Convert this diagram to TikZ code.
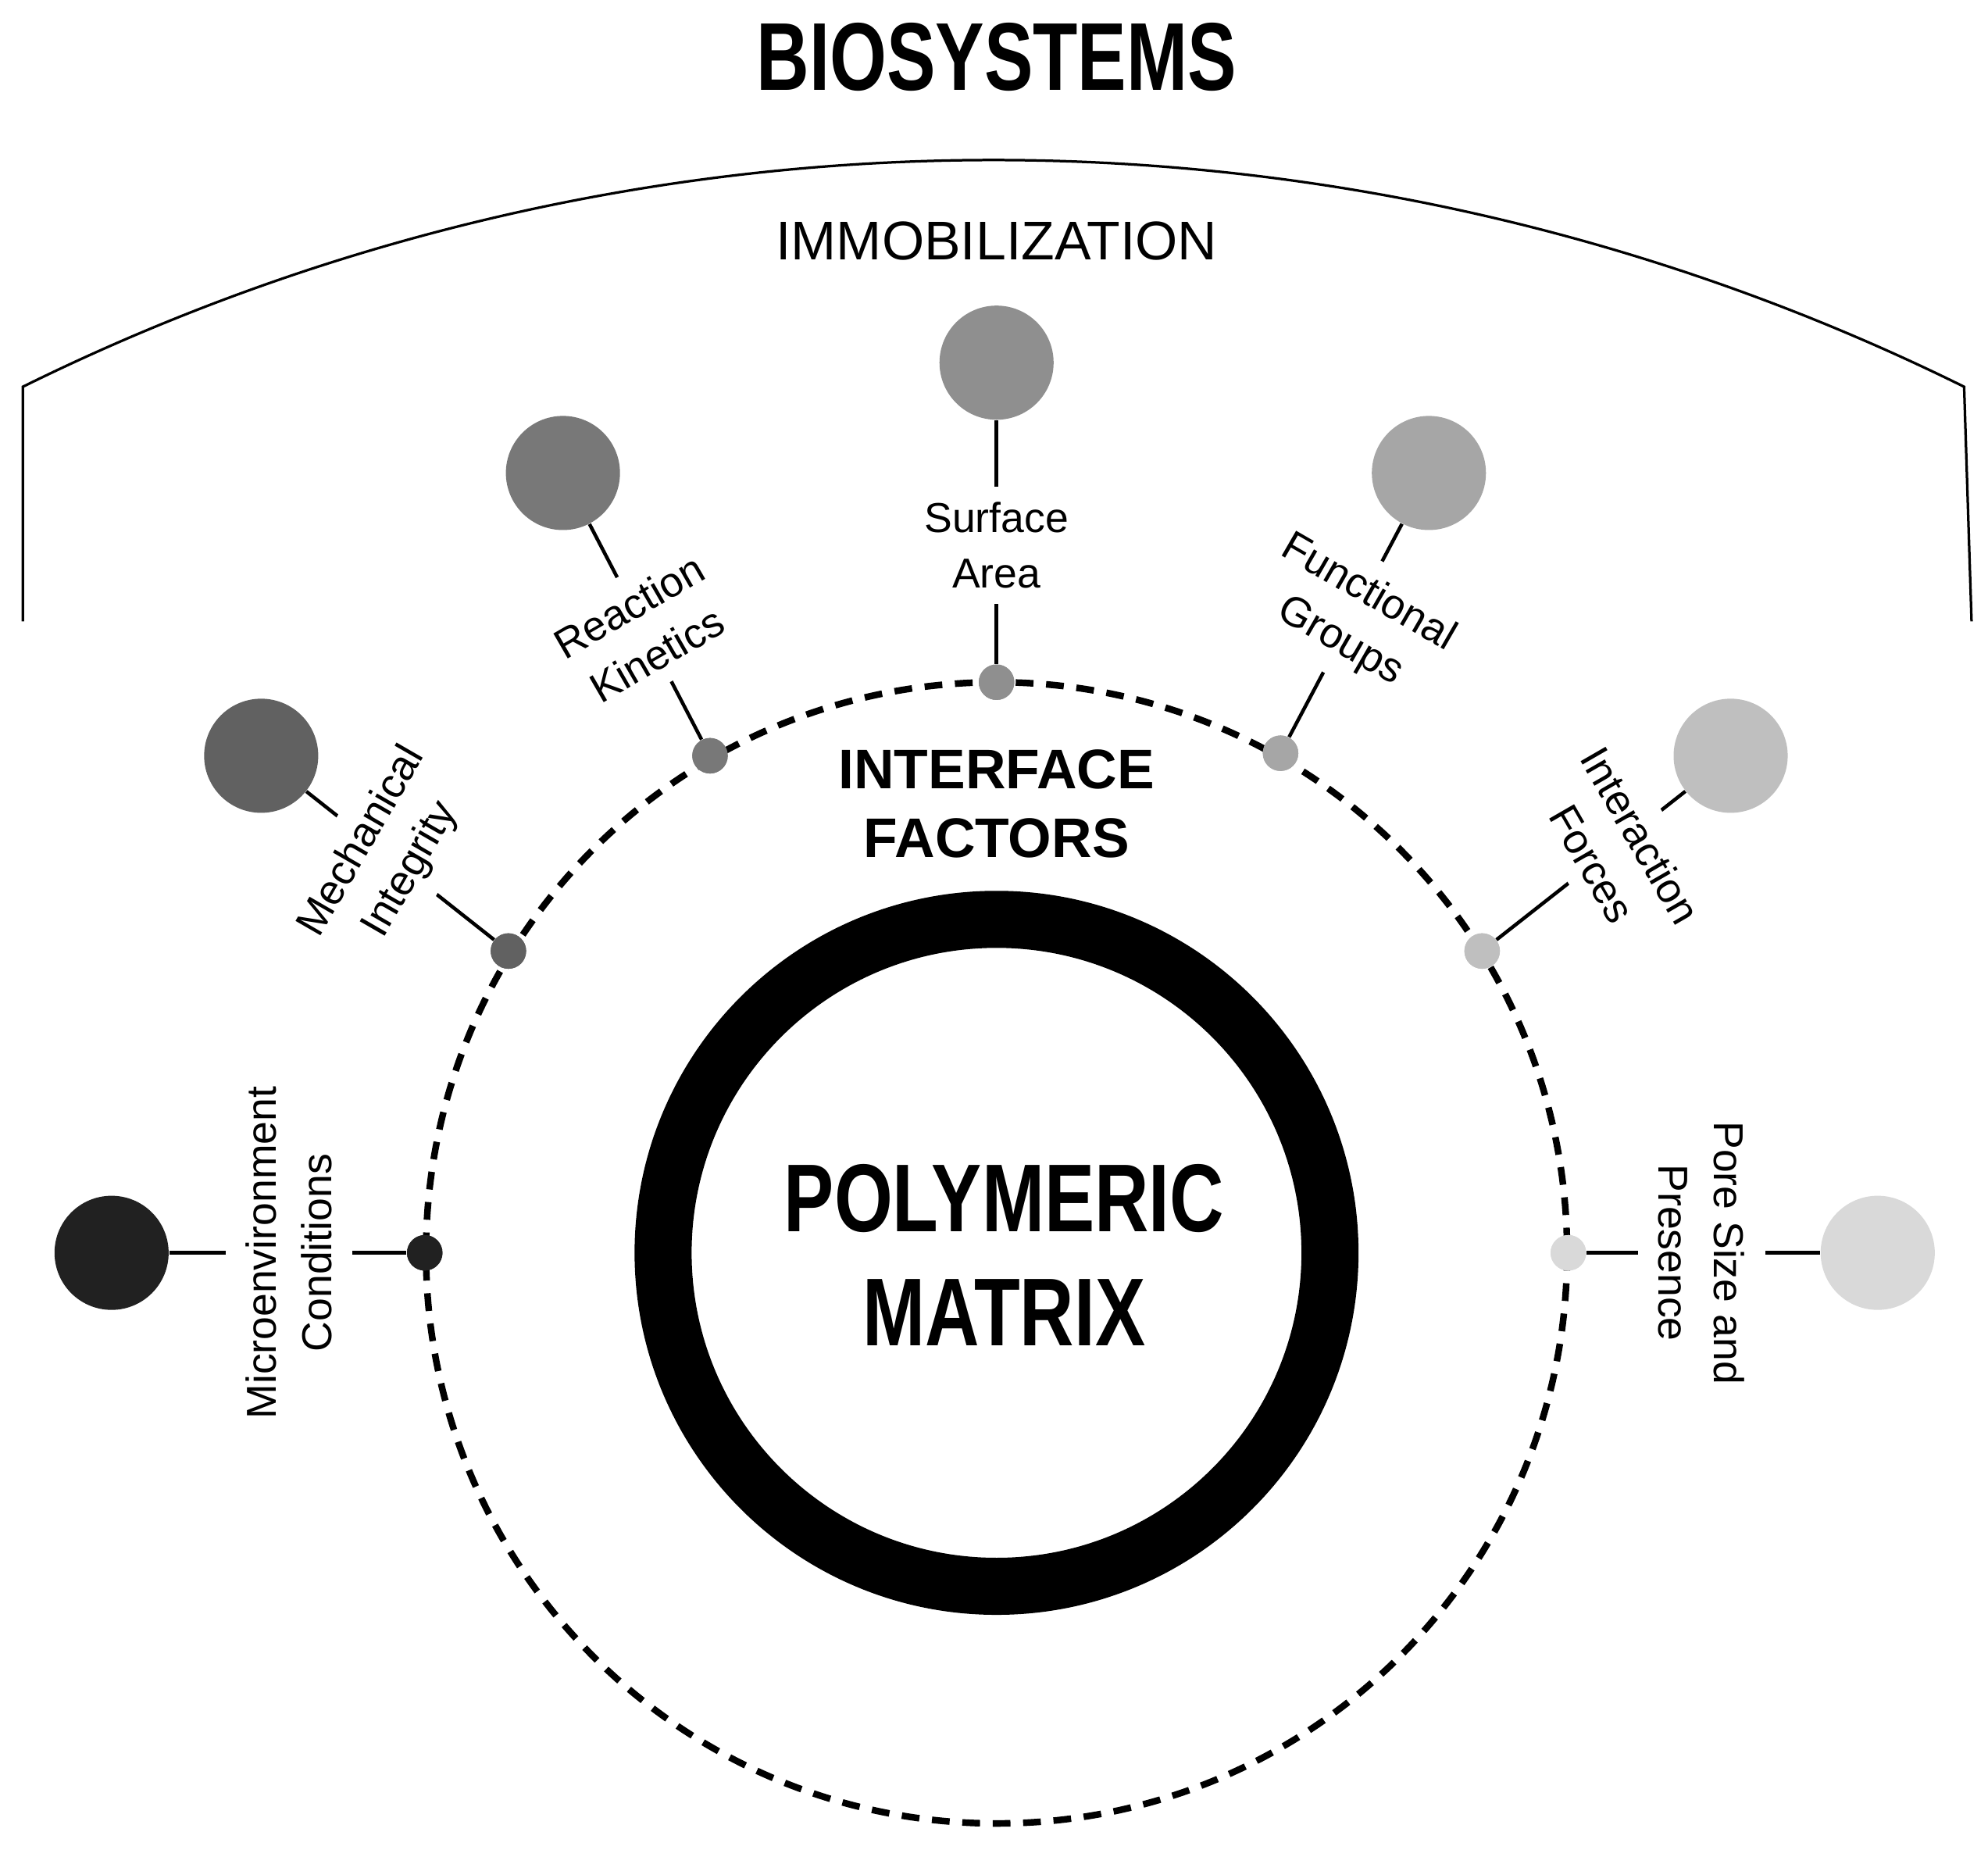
\documentclass[tikz,border=0pt]{standalone}
\usepackage{fontspec}
\setmainfont{Liberation Sans}
\begin{document}
\begin{tikzpicture}[x=0.5pt,y=-0.5pt,
 big/.style={circle,minimum size=45pt,inner sep=0pt},
 dot/.style={circle,minimum size=14pt,inner sep=0pt},
 lab/.style={fill=white,inner sep=2pt,align=center,font=\fontsize{16.5}{22}\selectfont},
 con/.style={line width=1.4pt}]
\useasboundingbox (0,0) rectangle (1568,1464);
\fill[white] (0,0) rectangle (1568,1464);
% top arc
\draw[line width=1pt] (18,490) -- (18,305) arc[start angle=243.7,end angle=296.3,radius=1728] -- (1555,490);
\node[font=\fontsize{38}{40}\bfseries\selectfont,xscale=0.76] (bio) at (786,45) {BIOSYSTEMS};
\node[font=\fontsize{21.5}{26}\selectfont] (imm) at (786,190) {IMMOBILIZATION};
% dashed circle
\draw[line width=2.6pt,dash pattern=on 7pt off 5pt] (786,988) circle[radius=450];
\draw[line width=22.5pt] (786,988) circle[radius=263];
\node[font=\fontsize{22}{27}\bfseries\selectfont,align=center] (if) at (786,634) {INTERFACE\\FACTORS};
\node[font=\fontsize{38}{45}\bfseries\selectfont,align=center,xscale=0.78] (pm) at (792,990) {POLYMERIC\\MATRIX};
% colours
\definecolor{c1}{gray}{0.13}\definecolor{c2}{gray}{0.38}\definecolor{c3}{gray}{0.47}
\definecolor{c4}{gray}{0.56}\definecolor{c5}{gray}{0.65}\definecolor{c6}{gray}{0.75}\definecolor{c7}{gray}{0.85}
% nodes
\node[big,fill=c1] (b1) at (88,988) {};   \node[dot,fill=c1] (d1) at (335,988) {};
\node[big,fill=c2] (b2) at (206,596) {};  \node[dot,fill=c2] (d2) at (401,750) {};
\node[big,fill=c3] (b3) at (444,373) {};  \node[dot,fill=c3] (d3) at (560,596) {};
\node[big,fill=c4] (b4) at (786,286) {};  \node[dot,fill=c4] (d4) at (786,538) {};
\node[big,fill=c5] (b5) at (1127,373) {}; \node[dot,fill=c5] (d5) at (1010,594) {};
\node[big,fill=c6] (b6) at (1365,596) {}; \node[dot,fill=c6] (d6) at (1169,750) {};
\node[big,fill=c7] (b7) at (1481,988) {}; \node[dot,fill=c7] (d7) at (1237,988) {};
\foreach \i in {1,...,7}{\draw[con] (d\i) -- (b\i);}
\node[lab,rotate=90,inner ysep=8pt] (l1) at (228,988) {Microenvironment\\Conditions};
\node[lab,rotate=60,inner ysep=6pt] (l2) at (305,675) {Mechanical\\Integrity};
\node[lab,rotate=30,inner ysep=6pt] (l3) at (507,497) {Reaction\\Kinetics};
\node[lab,inner ysep=6pt] (l4) at (786,430) {Surface\\Area};
\node[lab,rotate=-30,inner ysep=6pt] (l5) at (1068,487) {Functional\\Groups};
\node[lab,rotate=-60,inner ysep=6pt] (l6) at (1275,670) {Interaction\\Forces};
\node[lab,rotate=-90,inner ysep=8pt] (l7) at (1342,988) {Pore Size and\\Presence};
\foreach \i in {1,...,7}{\node[dot,fill=c\i] at (d\i) {};}
\end{tikzpicture}
\end{document}
